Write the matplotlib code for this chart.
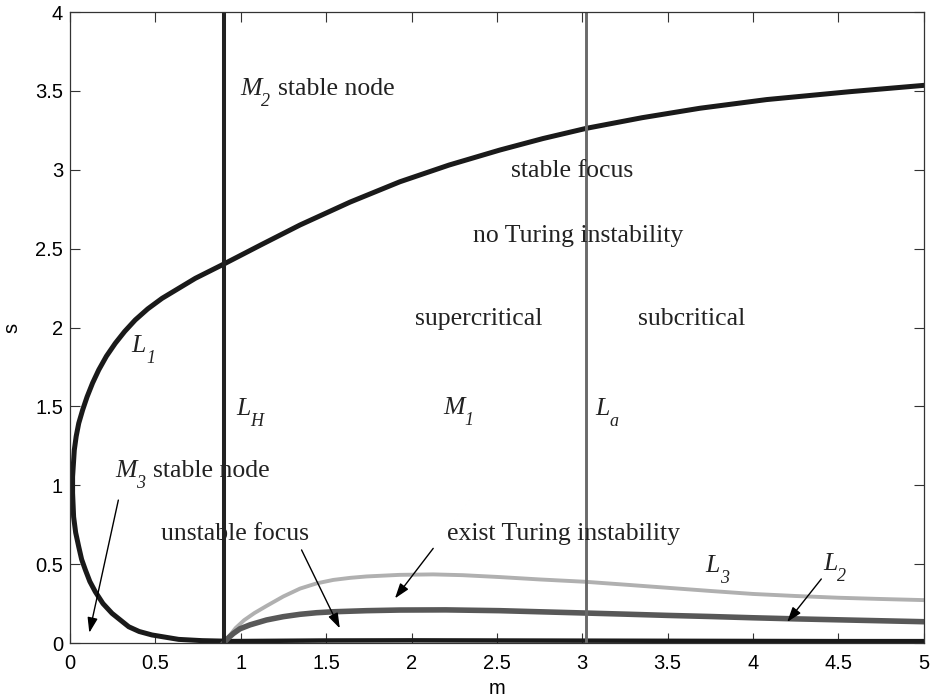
import matplotlib
matplotlib.use("Agg")
import matplotlib.pyplot as plt
from matplotlib.ticker import MultipleLocator, FuncFormatter

# curve L1: lower branch up to the vertex near m=0, then the upper branch
L1_m = [0.9, 0.773, 0.636, 0.48, 0.405, 0.344, 0.246, 0.193, 0.148, 0.116, 0.09,
        0.068, 0.051, 0.033, 0.021, 0.015,
        0.015, 0.025, 0.036, 0.051, 0.074, 0.10, 0.132, 0.168, 0.213, 0.265,
        0.32, 0.382, 0.455, 0.539, 0.734, 0.909,
        1.12, 1.347, 1.64, 1.932, 2.22, 2.517, 2.77, 3.025, 3.35, 3.689,
        4.08, 4.567, 5.0]
L1_s = [0.012, 0.015, 0.023, 0.051, 0.073, 0.103, 0.188, 0.25, 0.325, 0.39, 0.463,
        0.53, 0.61, 0.70, 0.80, 0.95,
        1.054, 1.223, 1.31, 1.393, 1.478, 1.561, 1.648, 1.731, 1.818, 1.90,
        1.975, 2.048, 2.118, 2.185, 2.312, 2.407,
        2.525, 2.65, 2.795, 2.924, 3.03, 3.125, 3.198, 3.263, 3.33, 3.39,
        3.445, 3.495, 3.535]

# black curve lying along the m axis
L0_m = [0.9, 1.2, 1.5, 2.0, 2.5, 3.0, 3.5, 4.0, 4.5, 5.0]
L0_s = [0.012, 0.014, 0.016, 0.017, 0.016, 0.015, 0.014, 0.013, 0.012, 0.012]

L2_m = [0.9, 0.93, 0.956, 0.995, 1.054, 1.151, 1.249, 1.347, 1.444, 1.54, 1.737,
        1.93, 2.2, 2.517, 2.75, 3.02, 3.25, 3.5, 3.75, 4.0, 4.25, 4.5, 4.75, 5.0]
L2_s = [0.0, 0.035, 0.06, 0.09, 0.115, 0.146, 0.167, 0.182, 0.192, 0.198, 0.205,
        0.209, 0.21, 0.205, 0.198, 0.19, 0.183, 0.175, 0.168, 0.16, 0.153, 0.147, 0.141, 0.135]

L3_m = [0.9, 0.93, 0.97, 1.02, 1.08, 1.151, 1.249, 1.347, 1.444, 1.542, 1.64, 1.737,
        1.93, 2.127, 2.3, 2.517, 2.75, 3.02, 3.25, 3.5, 3.75, 4.0, 4.25, 4.5, 4.75, 5.0]
L3_s = [0.0, 0.04, 0.095, 0.145, 0.19, 0.235, 0.295, 0.345, 0.378, 0.40, 0.413, 0.422,
        0.432, 0.435, 0.43, 0.418, 0.403, 0.388, 0.37, 0.35, 0.33, 0.311, 0.298, 0.287, 0.279, 0.272]

LH_m = 0.9
La_m = 3.02

plt.rcParams['font.family'] = 'Liberation Sans'

fig = plt.figure(figsize=(9.3, 6.99), dpi=100)
ax = fig.add_axes([0.0753, 0.0801, 0.918, 0.9027])

ax.plot(L1_m, L1_s, color='#1a1a1a', lw=3.6, solid_joinstyle='round')
ax.plot(L0_m, L0_s, color='#1a1a1a', lw=3.2)
ax.plot(L3_m, L3_s, color='#b0b0b0', lw=2.8, solid_joinstyle='round')
ax.plot(L2_m, L2_s, color='#585858', lw=4.0, solid_joinstyle='round')
ax.axvline(LH_m, color='#222222', lw=2.9)
ax.axvline(La_m, color='#6a6a6a', lw=2.1)

ax.set_xlim(0, 5)
ax.set_ylim(0, 4)
ax.xaxis.set_major_locator(MultipleLocator(0.5))
ax.yaxis.set_major_locator(MultipleLocator(0.5))
fmt = FuncFormatter(lambda v, p: '%g' % v)
ax.xaxis.set_major_formatter(fmt)
ax.yaxis.set_major_formatter(fmt)
ax.tick_params(direction='in', length=7, width=0.8, top=True, right=True,
               labelsize=14.5, color='#333333')
ax.tick_params(axis='x', pad=8)
ax.tick_params(axis='y', pad=5)
for sp in ax.spines.values():
    sp.set_linewidth(0.9)
    sp.set_color('#333333')
ax.set_xlabel('m', fontsize=14.5, labelpad=4)
ax.set_ylabel('s', fontsize=14.5, labelpad=10)

serif = 'Liberation Serif'
tf = dict(family=serif, fontsize=18.5, color='#222222')


def label(x, y, main, sub, rest=None):
    # italic symbol with a low italic subscript, optionally followed by plain text
    t = ax.text(x, y, main, style='italic', ha='left', va='baseline', **tf)
    s = ax.annotate(sub, xy=(1, 0), xycoords=t, xytext=(0, -7.5),
                    textcoords='offset points', family=serif, fontsize=13,
                    style='italic', color='#222222', ha='left', va='bottom')
    if rest:
        ax.annotate(rest, xy=(1, 0), xycoords=s, xytext=(5.5, 7.5),
                    textcoords='offset points', ha='left', va='bottom', **tf)


label(0.995, 3.474, 'M', '2', 'stable node')
label(0.263, 1.054, 'M', '3', 'stable node')
label(0.36, 1.847, 'L', '1')
label(0.972, 1.445, 'L', 'H')
label(2.186, 1.452, 'M', '1')
label(3.077, 1.445, 'L', 'a')
label(3.72, 0.45, 'L', '3')
label(4.41, 0.463, 'L', '2')

ax.text(2.942, 2.952, 'stable focus', ha='center', va='baseline', **tf)
ax.text(2.974, 2.544, 'no Turing instability', ha='center', va='baseline', **tf)
ax.text(2.394, 2.016, 'supercritical', ha='center', va='baseline', **tf)
ax.text(3.64, 2.016, 'subcritical', ha='center', va='baseline', **tf)
ax.text(0.968, 0.653, 'unstable focus', ha='center', va='baseline', **tf)
ax.text(2.89, 0.653, 'exist Turing instability', ha='center', va='baseline', **tf)

ap = dict(arrowstyle='-|>,head_length=0.65,head_width=0.22', lw=1.0,
          color='black', mutation_scale=14, shrinkA=0, shrinkB=0)
ax.annotate('', xy=(0.113, 0.065), xytext=(0.283, 0.906), arrowprops=ap)
ax.annotate('', xy=(1.58, 0.093), xytext=(1.356, 0.59), arrowprops=ap)
ax.annotate('', xy=(1.903, 0.283), xytext=(2.127, 0.60), arrowprops=ap)
ax.annotate('', xy=(4.20, 0.133), xytext=(4.40, 0.406), arrowprops=ap)

fig.savefig('out.png', dpi=100)
